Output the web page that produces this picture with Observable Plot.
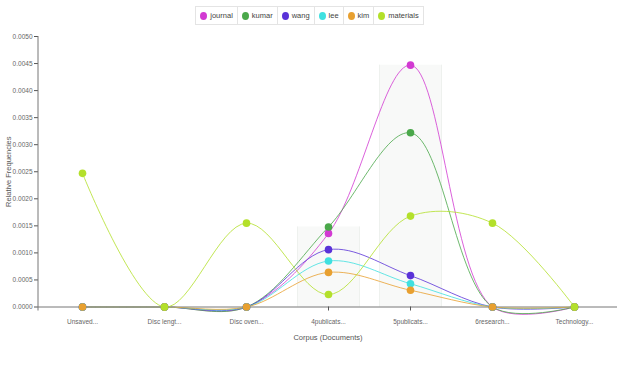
<!DOCTYPE html>
<html>
<head>
<meta charset="utf-8">
<script src="https://cdn.jsdelivr.net/npm/d3@7"></script>
<script src="https://cdn.jsdelivr.net/npm/@observablehq/plot@0.6"></script>
<style>
  html, body { margin: 0; padding: 0; background: #fff; }
  body { width: 617px; height: 375px; overflow: hidden; font-family: "Liberation Sans", Arial, sans-serif; }
  #legend { height: 25px; display: flex; justify-content: center; align-items: flex-end; }
  #legend .box { display: flex; border: 1px solid #e4e4e4; height: 17px; align-items: center; margin-left: 2px; }
  #legend .item { display: flex; align-items: center; padding: 0 4px; font-size: 7.5px; color: #444; border-left: 1px solid #e4e4e4; height: 17px; }
  #legend .item:first-child { border-left: none; }
  #legend .dot { width: 7px; height: 8px; border-radius: 50%; margin-right: 3px; }
</style>
</head>
<body>
<div id="legend"></div>
<div id="chart"></div>
<script>
const categories = ["Unsaved...", "Disc lengt...", "Disc oven...", "4publicats...", "5publicats...", "6research...", "Technology..."];
const seriesNames = ["journal", "kumar", "wang", "lee", "kim", "materials"];
const seriesColors = ["#d23ad2", "#4aa84a", "#5a32d8", "#3fe0e0", "#e8a030", "#b3e02a"];
const journal   = [0, 0, 0, 0.00136, 0.00447, 0, 0];
const kumar     = [0, 0, 0, 0.00148, 0.00322, 0, 0];
const wang      = [0, 0, 0, 0.00106, 0.00058, 0, 0];
const lee       = [0, 0, 0, 0.00085, 0.00043, 0, 0];
const kim       = [0, 0, 0, 0.00064, 0.00031, 0, 0];
const materials = [0.00247, 0, 0.00155, 0.00023, 0.00168, 0.00155, 0];
const highlighted = ["4publicats...", "5publicats..."];
const yTicks = [0, 0.0005, 0.0010, 0.0015, 0.0020, 0.0025, 0.0030, 0.0035, 0.0040, 0.0045, 0.0050];

const seriesValues = [journal, kumar, wang, lee, kim, materials];
const rows = [];
seriesNames.forEach((s, i) => categories.forEach((c, j) => rows.push({series: s, cat: c, value: seriesValues[i][j]})));
const bars = highlighted.map(c => {
  const j = categories.indexOf(c);
  return {cat: c, value: d3.max(seriesValues, v => v[j])};
});

// legend
const lg = d3.select("#legend").append("div").attr("class", "box");
seriesNames.forEach((s, i) => {
  const it = lg.append("div").attr("class", "item");
  it.append("div").attr("class", "dot").style("background", seriesColors[i]);
  it.append("span").text(s);
});

const plot = Plot.plot({
  width: 617,
  height: 335,
  marginLeft: 38,
  marginRight: 0,
  marginTop: 11,
  marginBottom: 53.5,
  style: {fontFamily: "Liberation Sans, Arial, sans-serif", fontSize: "6.5px", color: "#555"},
  x: {type: "point", domain: categories, padding: 0.5, label: null},
  y: {domain: [0, 0.0050], label: null},
  color: {domain: seriesNames, range: seriesColors},
  marks: [
    Plot.ruleX(bars, {x: "cat", y1: 0, y2: "value", stroke: "#f8f9f8", strokeWidth: 62}),
    Plot.ruleX(bars, {x: "cat", y1: 0, y2: "value", stroke: "#ebedeb", strokeWidth: 0.8, dx: -31}),
    Plot.ruleX(bars, {x: "cat", y1: 0, y2: "value", stroke: "#ebedeb", strokeWidth: 0.8, dx: 31}),
    Plot.axisY({ticks: yTicks, tickFormat: d3.format(".4f"), tickSize: 4, tickPadding: 2, fill: "#666", label: null}),
    Plot.ruleY([0], {stroke: "#777"}),
    Plot.axisX({tickSize: 4, tickPadding: 8, fill: "#666", label: null}),
    Plot.line(rows, {x: "cat", y: "value", z: "series", stroke: "series", curve: "catmull-rom", strokeWidth: 1, strokeOpacity: 0.8}),
    Plot.dot(rows, {x: "cat", y: "value", fill: "series", r: 3.8}),
    Plot.text(["Corpus (Documents)"], {frameAnchor: "bottom", dy: 33, fontSize: 7.5, fill: "#555"}),
    Plot.text(["Relative Frequencies"], {frameAnchor: "left", textAnchor: "middle", dx: -30, rotate: -90, fontSize: 7.5, fill: "#555"})
  ]
});
// y-axis baseline
const svg = d3.select(plot);
svg.append("line").attr("x1", 38).attr("x2", 38).attr("y1", 11).attr("y2", 335 - 53.5 + 4).attr("stroke", "#777");
document.getElementById("chart").appendChild(plot);
</script>
</body>
</html>
